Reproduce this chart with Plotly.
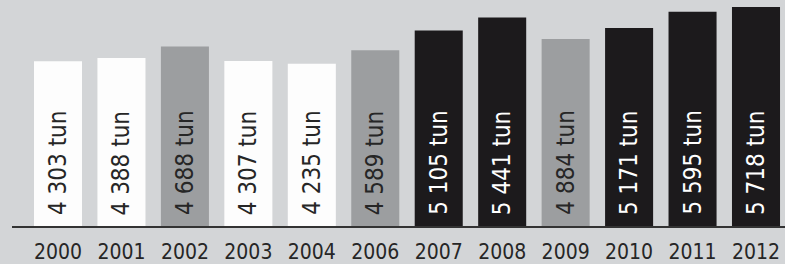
import plotly.graph_objects as go

years = ["2000", "2001", "2002", "2003", "2004", "2006", "2007", "2008", "2009", "2010", "2011", "2012"]
values = [4303, 4388, 4688, 4307, 4235, 4589, 5105, 5441, 4884, 5171, 5595, 5718]
groups = ["w", "w", "g", "w", "w", "g", "b", "b", "g", "b", "b", "b"]

BG = "#d3d5d7"
fill = {"w": "#fdfdfd", "g": "#9c9ea0", "b": "#1c1a1c"}
txt = {"w": "#262626", "g": "#262626", "b": "#ffffff"}
FONT = "Liberation Sans Narrow, DejaVu Sans Condensed, Arial Narrow, sans-serif"

labels = [f"{v:,}".replace(",", " ") + " tun" for v in values]

fig = go.Figure()
fig.add_trace(go.Bar(
    x=years, y=values,
    marker=dict(color=[fill[g] for g in groups], line=dict(width=0)),
    hoverinfo="skip",
))

for i, (lab, g) in enumerate(zip(labels, groups)):
    fig.add_annotation(
        x=i, y=0, xref="x", yref="y",
        text=lab, textangle=-90, showarrow=False,
        xanchor="center", yanchor="bottom", yshift=9,
        font=dict(family=FONT, size=24, color=txt[g]),
    )

fig.update_layout(
    width=785, height=264,
    margin=dict(l=12, r=0, t=0, b=38),
    paper_bgcolor=BG, plot_bgcolor=BG,
    bargap=0.243,
    showlegend=False,
    xaxis=dict(
        type="category",
        range=[-0.725, 11.457],
        showline=True, linecolor="#333333", linewidth=2,
        showgrid=False, zeroline=False, ticks="",
        ticklabelstandoff=6,
        tickfont=dict(family=FONT, size=21, color="#262626"),
    ),
    yaxis=dict(
        range=[0, 5900], visible=False, showgrid=False, zeroline=False,
    ),
)

fig.write_html("out.html", config={"displayModeBar": False},
               post_script="document.body.style.margin='0';")
